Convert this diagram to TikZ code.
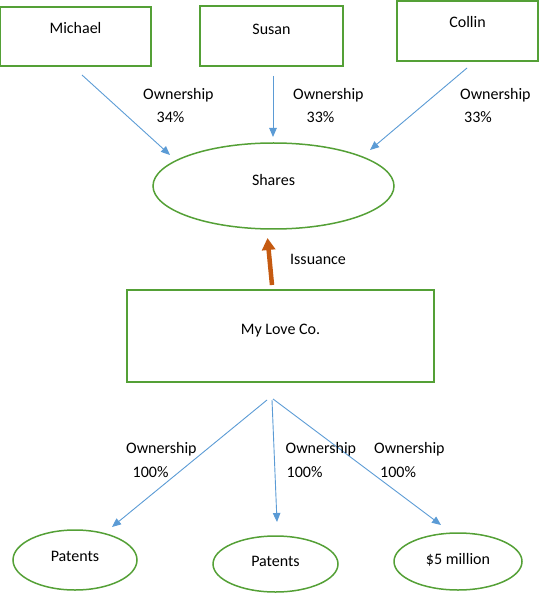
\documentclass[tikz,border=0pt]{standalone}
\usepackage{fontspec}
\setmainfont{Carlito}
\usetikzlibrary{arrows.meta,shapes.geometric}
\definecolor{boxgreen}{RGB}{84,160,54}
\definecolor{arrblue}{RGB}{91,155,213}
\definecolor{arrorange}{RGB}{197,90,17}
\tikzset{
  box/.style={draw=boxgreen, line width=1.5pt, rectangle, inner sep=0pt},
  oval/.style={draw=boxgreen, line width=1.5pt, ellipse, inner sep=0pt},
  txt/.style={font=\fontsize{16}{19}\selectfont, text=black, inner sep=0pt},
  own/.style={draw=arrblue, line width=0.9pt, -{Triangle[length=9pt,width=7.5pt]}},
  issue/.style={draw=arrorange, line width=4.5pt, -{Triangle[length=12pt,width=13pt]}},
}
\begin{document}
\begin{tikzpicture}[x=1pt,y=-1pt]
\useasboundingbox (0,0) rectangle (539,593);
% owner boxes
\node[box, minimum width=151pt, minimum height=59pt,
  label={[txt,yshift=8pt]center:Michael}] (michael) at (75.5,36.5) {};
\node[box, minimum width=143pt, minimum height=60pt,
  label={[txt,yshift=7pt]center:Susan}] (susan) at (271.5,36) {};
\node[box, minimum width=141pt, minimum height=60pt,
  label={[txt,yshift=8.5pt]center:Collin}] (collin) at (467.5,31) {};
% shares
\node[oval, minimum width=241pt, minimum height=86pt,
  label={[txt,yshift=6.3pt]center:Shares}] (shares) at (273.5,186) {};
% company
\node[box, minimum width=307pt, minimum height=92pt,
  label={[txt,yshift=5.5pt]center:My Love Co.}] (company) at (280.5,336) {};
% assets
\node[oval, minimum width=124pt, minimum height=60pt,
  label={[txt,yshift=3.5pt]center:Patents}] (pat1) at (75,560) {};
\node[oval, minimum width=125pt, minimum height=56pt,
  label={[txt,yshift=3pt]center:Patents}] (pat2) at (275.5,564) {};
\node[oval, minimum width=128pt, minimum height=57pt,
  label={[txt,yshift=2pt]center:\$5 million}] (cash) at (458,561.5) {};
% connector end points
\coordinate (mS) at (82,75);   \coordinate (mE) at (170,155);
\coordinate (sS) at (273,76);  \coordinate (sE) at (273,137);
\coordinate (cS) at (467,68);  \coordinate (cE) at (370,150);
\coordinate (iS) at (272,285); \coordinate (iE) at (267.5,238);
\coordinate (p1S) at (267,400); \coordinate (p1E) at (112,527);
\coordinate (p2S) at (272,400); \coordinate (p2E) at (277,522);
\coordinate (p3S) at (273,399); \coordinate (p3E) at (441,525);
% connectors
\draw[own] (mS) -- (mE);
\draw[own] (sS) -- (sE);
\draw[own] (cS) -- (cE);
\draw[issue] (iS) -- (iE);
\draw[own] (p1S) -- (p1E);
\draw[own] (p2S) -- (p2E);
\draw[own] (p3S) -- (p3E);
% labels
\node[txt, anchor=base west] (l1a) at (143,100) {Ownership};
\node[txt, anchor=base west] (l1b) at (156.5,123) {34\%};
\node[txt, anchor=base west] (l2a) at (293,100) {Ownership};
\node[txt, anchor=base west] (l2b) at (306.5,123) {33\%};
\node[txt, anchor=base west] (l3a) at (460,100) {Ownership};
\node[txt, anchor=base west] (l3b) at (464,123) {33\%};
\node[txt, anchor=base west] (iss) at (290,264.5) {Issuance};
\node[txt, anchor=base west] (l4a) at (126,453) {Ownership};
\node[txt, anchor=base west] (l4b) at (132.5,477) {100\%};
\node[txt, anchor=base west] (l5a) at (285.5,453) {Ownership};
\node[txt, anchor=base west] (l5b) at (286.5,477) {100\%};
\node[txt, anchor=base west] (l6a) at (374,453) {Ownership};
\node[txt, anchor=base west] (l6b) at (380,477) {100\%};
\end{tikzpicture}
\end{document}
